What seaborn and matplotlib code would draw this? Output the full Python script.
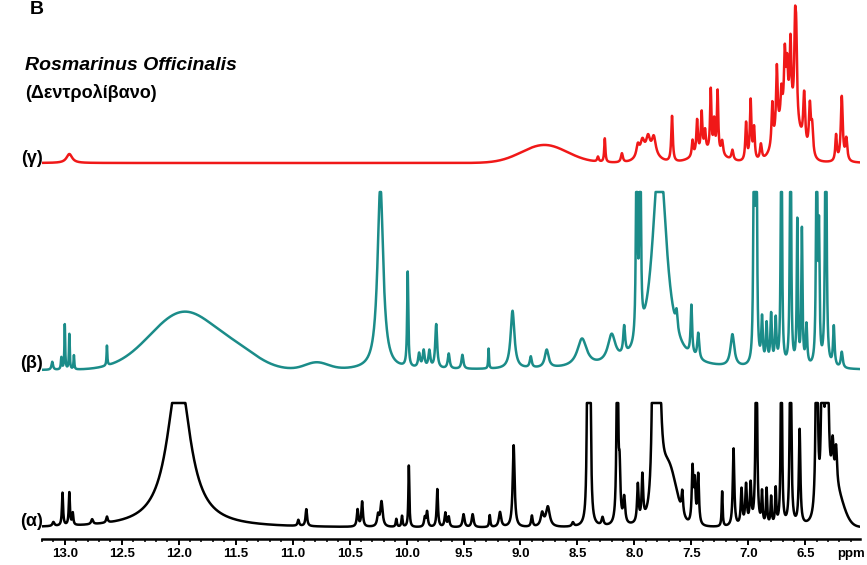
import numpy as np
import pandas as pd
import matplotlib
matplotlib.use("Agg")
import matplotlib.pyplot as plt
from matplotlib.ticker import MultipleLocator, FixedLocator
import seaborn as sns

# ---------------- data (peak lists) ----------------
# heights in display units above each trace's baseline, widths = HWHM in ppm
alpha_ppm = [13.10, 13.02, 12.96, 12.93, 12.76, 12.63, 12.00, 10.95, 10.88, 10.43, 10.39, 10.25, 10.22,
             10.09, 10.04, 9.98, 9.84, 9.82, 9.73, 9.66, 9.63, 9.50, 9.42, 9.27, 9.18, 9.06, 8.90,
             8.81, 8.76, 8.54, 8.41, 8.39, 8.28, 8.15, 8.13, 8.09, 7.97, 7.93, 7.83, 7.79, 7.58,
             7.49, 7.47, 7.44, 7.23, 7.13, 7.06, 7.02, 6.98, 6.93, 6.88, 6.84, 6.80, 6.76, 6.71,
             6.63, 6.55, 6.40, 6.35, 6.31, 6.26, 6.23]
alpha_height = [4, 33, 33, 12, 5, 6, 155, 6, 17, 17, 25, 11, 25, 8, 11, 62, 9, 15, 38, 14, 10, 13, 13, 12,
                15, 82, 11, 13, 20, 4, 300, 300, 8, 300, 48, 26, 38, 45, 400, 200, 22, 55, 40, 50,
                35, 78, 36, 40, 40, 300, 32, 36, 28, 36, 300, 300, 95, 300, 300, 300, 40, 38]
alpha_width = [.01, .006, .006, .006, .01, .008, .12, .008, .008, .008, .008, .01, .012, .006, .006, .005,
               .008, .008, .007, .008, .008, .01, .01, .006, .012, .01, .008, .015, .02, .01, .006,
               .006, .01, .006, .008, .01, .008, .008, .01, .02, .008, .008, .008, .008, .005, .008,
               .008, .008, .008, .006, .006, .006, .006, .006, .005, .006, .008, .008, .008, .01,
               .01, .01]
alpha_hump_ppm = [7.70, 6.24]
alpha_hump_height = [55, 35]
alpha_hump_width = [.07, .07]

beta_ppm = [13.11, 13.03, 13.00, 12.96, 12.92, 12.63, 10.23, 9.99, 9.89, 9.85, 9.80, 9.74, 9.63, 9.51,
            9.28, 9.07, 8.91, 8.77, 8.46, 8.20, 8.09, 7.98, 7.95, 7.78, 7.63, 7.50, 7.44, 7.14,
            6.95, 6.93, 6.88, 6.84, 6.80, 6.76, 6.71, 6.63, 6.57, 6.53, 6.49, 6.40, 6.38, 6.32,
            6.25, 6.18]
beta_height = [8, 12, 45, 36, 14, 20, 185, 95, 14, 17, 17, 44, 15, 14, 20, 58, 11, 18, 28, 28, 28, 400,
               400, 213, 18, 50, 26, 32, 400, 400, 45, 40, 50, 45, 400, 400, 145, 135, 40, 400, 125,
               400, 40, 16]
beta_width = [.008, .005, .004, .004, .004, .004, .03, .006, .01, .01, .01, .01, .01, .01, .004, .02,
              .01, .02, .05, .04, .01, .005, .005, .075, .01, .008, .01, .02, .005, .005, .008, .008,
              .008, .008, .005, .005, .006, .006, .008, .005, .006, .006, .008, .01]
beta_hump_ppm = [11.95, 11.45, 10.79]
beta_hump_height = [58, 10, 7]
beta_hump_width = [.30, .18, .1]

gamma_ppm = [12.96, 8.32, 8.26, 8.11, 7.97, 7.93, 7.88, 7.83, 7.67, 7.49, 7.45, 7.41, 7.38, 7.33, 7.30,
             7.27, 7.23, 7.14, 7.02, 6.98, 6.95, 6.89, 6.79, 6.75, 6.71, 6.68, 6.66, 6.63, 6.59,
             6.58, 6.51, 6.46, 6.44, 6.23, 6.18, 6.14]
gamma_height = [9, 5, 24, 9, 12, 14, 16, 18, 46, 16, 34, 40, 20, 62, 30, 62, 14, 10, 38, 60, 32, 16, 42,
                66, 28, 58, 42, 68, 80, 72, 52, 48, 28, 26, 65, 22]
gamma_width = [.03, .008, .006, .01, .015, .02, .02, .02, .008, .008, .008, .008, .008, .007, .007, .007,
               .01, .01, .008, .008, .008, .01, .008, .008, .008, .008, .008, .008, .008, .008, .01,
               .01, .01, .008, .01, .01]
gamma_hump_ppm = [8.79, 6.65, 7.35, 7.88]
gamma_hump_height = [18, 52, 10, 8]
gamma_hump_width = [.2, .09, .12, .08]

trace_names = ["(α)", "(β)", "(γ)"]
trace_colors = ["#000000", "#1b8c89", "#f01818"]
baselines = [12, 170, 377]
ceilings = [137, 348, 600]

tick_values = [13.0, 12.5, 12.0, 11.5, 11.0, 10.5, 10.0, 9.5, 9.0, 8.5, 8.0, 7.5, 7.0, 6.5]
tick_labels = ["13.0", "12.5", "12.0", "11.5", "11.0", "10.5", "10.0", "9.5", "9.0", "8.5",
               "8.0", "7.5", "7.0", "6.5"]


def build(grid, ppm, h, w, hp, hh, hw):
    y = np.zeros_like(grid)
    for p, a, g in zip(ppm, h, w):
        y += a / (1.0 + ((grid - p) / g) ** 2)
    for p, a, s in zip(hp, hh, hw):
        y += a * np.exp(-0.5 * ((grid - p) / s) ** 2)
    return y


grid = np.linspace(13.2, 6.02, 6000)
specs = [
    build(grid, alpha_ppm, alpha_height, alpha_width, alpha_hump_ppm, alpha_hump_height, alpha_hump_width),
    build(grid, beta_ppm, beta_height, beta_width, beta_hump_ppm, beta_hump_height, beta_hump_width),
    build(grid, gamma_ppm, gamma_height, gamma_width, gamma_hump_ppm, gamma_hump_height, gamma_hump_width),
]

frames = []
for name, s, b, c in zip(trace_names, specs, baselines, ceilings):
    frames.append(pd.DataFrame({"ppm": grid, "signal": np.minimum(s + b, c), "trace": name}))
df = pd.concat(frames, ignore_index=True)

# ---------------- plotting ----------------
sns.set_theme(style="white")
plt.rcParams["font.family"] = ["Liberation Sans", "DejaVu Sans"]
plt.rcParams["text.color"] = "black"
plt.rcParams["xtick.color"] = "black"
plt.rcParams["xtick.labelcolor"] = "black"

fig = plt.figure(figsize=(8.67, 5.65), dpi=100)
ax = fig.add_axes([42 / 867, 26 / 565, 818 / 867, 539 / 565])
ax.patch.set_alpha(0)

sns.lineplot(data=df, x="ppm", y="signal", hue="trace", palette=dict(zip(trace_names, trace_colors)),
             estimator=None, sort=False, linewidth=1.8, legend=False, ax=ax)

ax.set_xlim(13.2, 6.02)
ax.set_ylim(1, 540)
for side in ["top", "right", "left"]:
    ax.spines[side].set_visible(False)
ax.spines["bottom"].set_linewidth(1.8)
ax.spines["bottom"].set_color("black")
ax.set_yticks([])
ax.xaxis.set_major_locator(FixedLocator(tick_values))
ax.set_xticklabels(tick_labels, fontsize=9.5, fontweight="bold", color="black")
ax.xaxis.set_minor_locator(MultipleLocator(0.1))
ax.tick_params(axis="x", which="major", direction="out", length=4, width=1.4, pad=2.5, colors="black",
               bottom=True)
ax.tick_params(axis="x", which="minor", direction="out", length=2.5, width=1.1, colors="black", bottom=True)
ax.set_xlabel("")
ax.set_ylabel("")

fig.text(837 / 867, 1 - 554 / 565, "ppm", fontsize=9.5, fontweight="bold", ha="left", va="center",
         color="black")

# trace labels
label_y = [522, 363, 158]
for name, ly in zip(trace_names, label_y):
    fig.text(43 / 867, 1 - ly / 565, name, fontsize=13, fontweight="bold", ha="right", va="center",
             color="black")

fig.text(25 / 867, 1 - 65 / 565, "Rosmarinus Officinalis", fontsize=14, fontweight="bold",
         fontstyle="italic", ha="left", va="center", color="black")
fig.text(25 / 867, 1 - 93 / 565, "(Δεντρολίβανο)", fontsize=13, fontweight="bold", ha="left", va="center",
         color="black")
fig.text(30 / 867, 1 - 1 / 565, "B", fontsize=14, fontweight="bold", ha="left", va="top", color="black")

fig.savefig("out.png", dpi=100)
